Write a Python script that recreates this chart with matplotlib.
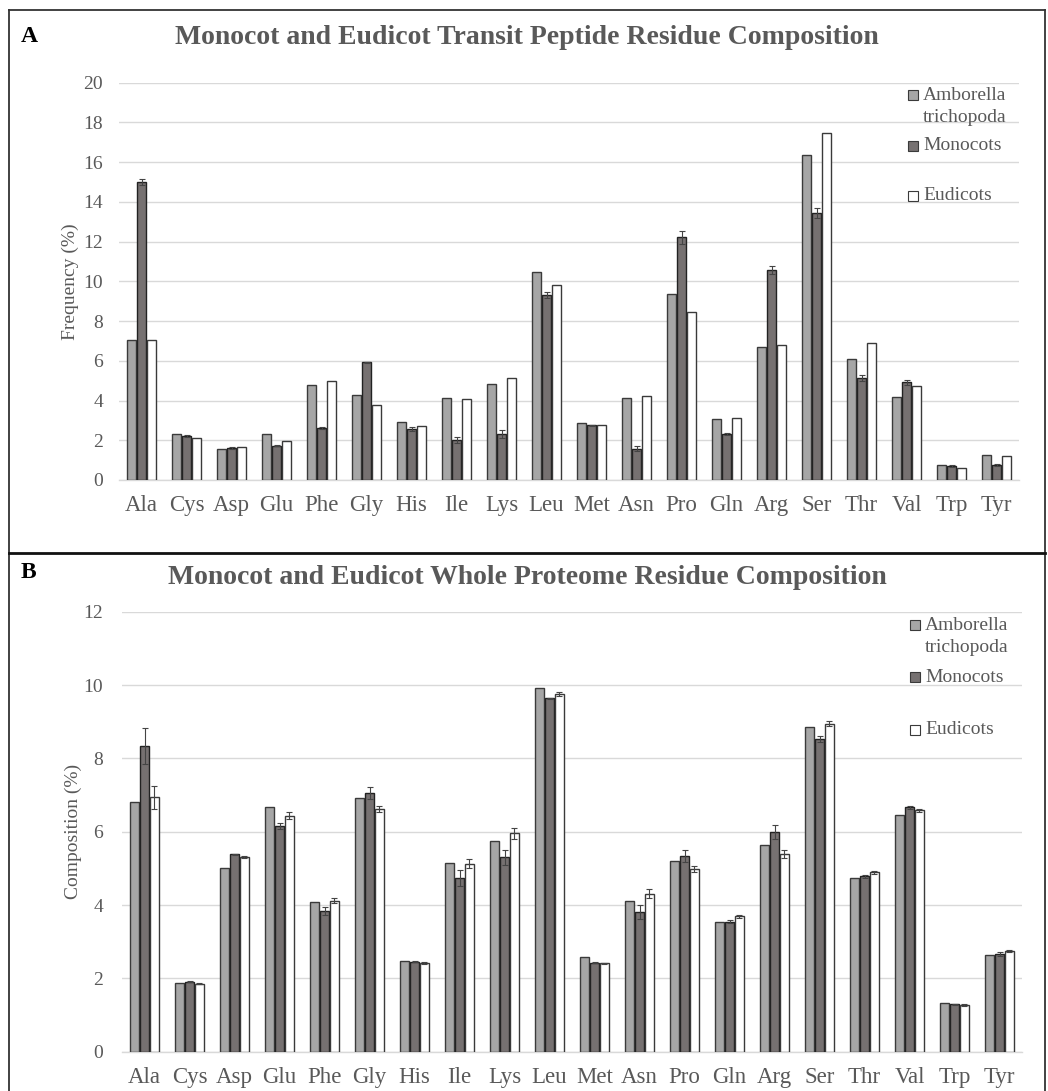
import matplotlib
matplotlib.use("Agg")
import matplotlib.pyplot as plt
from matplotlib.patches import Rectangle
from matplotlib.lines import Line2D
import numpy as np

plt.rcParams['font.family'] = ['Liberation Serif', 'DejaVu Serif']

residues = ["Ala", "Cys", "Asp", "Glu", "Phe", "Gly", "His", "Ile", "Lys", "Leu",
            "Met", "Asn", "Pro", "Gln", "Arg", "Ser", "Thr", "Val", "Trp", "Tyr"]
series_names = ["Amborella\ntrichopoda", "Monocots", "Eudicots"]

# Panel A: transit peptide residue frequency (%)
tp_amborella = [7.06, 2.30, 1.54, 2.33, 4.77, 4.28, 2.92, 4.13, 4.85, 10.45,
                2.89, 4.13, 9.35, 3.09, 6.69, 16.38, 6.07, 4.19, 0.74, 1.28]
tp_monocots = [15.02, 2.20, 1.63, 1.73, 2.62, 5.92, 2.55, 2.00, 2.30, 9.30,
               2.75, 1.58, 12.21, 2.30, 10.57, 13.44, 5.12, 4.92, 0.70, 0.76]
tp_monocots_err = [0.15, 0.05, 0.05, 0.03, 0.05, 0.04, 0.10, 0.15, 0.20, 0.15,
                   0.03, 0.12, 0.32, 0.05, 0.18, 0.23, 0.15, 0.12, 0.03, 0.04]
tp_eudicots = [7.06, 2.10, 1.66, 1.95, 4.97, 3.79, 2.73, 4.09, 5.15, 9.80,
               2.77, 4.24, 8.47, 3.12, 6.81, 17.48, 6.88, 4.73, 0.59, 1.19]

# Panel B: whole proteome residue composition (%)
wp_amborella = [6.81, 1.88, 5.02, 6.68, 4.09, 6.91, 2.48, 5.14, 5.76, 9.91,
                2.59, 4.12, 5.20, 3.55, 5.65, 8.85, 4.75, 6.46, 1.32, 2.65]
wp_monocots = [8.33, 1.91, 5.38, 6.16, 3.84, 7.05, 2.46, 4.74, 5.30, 9.64,
               2.43, 3.81, 5.34, 3.55, 5.99, 8.53, 4.78, 6.67, 1.29, 2.67]
wp_monocots_err = [0.49, 0.02, 0.02, 0.08, 0.10, 0.16, 0.02, 0.22, 0.21, 0.02,
                   0.02, 0.18, 0.17, 0.03, 0.20, 0.09, 0.03, 0.04, 0.02, 0.05]
wp_eudicots = [6.94, 1.86, 5.32, 6.44, 4.12, 6.63, 2.42, 5.13, 5.96, 9.75,
               2.41, 4.31, 4.99, 3.69, 5.40, 8.95, 4.89, 6.58, 1.28, 2.75]
wp_eudicots_err = [0.31, 0.02, 0.03, 0.09, 0.06, 0.08, 0.02, 0.12, 0.15, 0.05,
                   0.02, 0.12, 0.08, 0.04, 0.11, 0.08, 0.04, 0.03, 0.02, 0.03]

W, H = 1048, 1091
fig = plt.figure(figsize=(W / 100, H / 100), dpi=100)
fig.patch.set_facecolor("white")

TXT = "#595959"
C_AMB = "#a6a6a6"
C_MON = "#767171"
C_EUD = "#ffffff"
EDGE = "#3a3a3a"
GRID = "#d9d9d9"


def fx(px):
    return px / W


def fy(py):
    return 1 - py / H


def make_panel(rect_px, ymax, ystep, amb, mon, mon_err, eud, eud_err, ylabel, ypad):
    l, t, r, b = rect_px
    ax = fig.add_axes([fx(l), fy(b), fx(r) - fx(l), fy(t) - fy(b)])
    x = np.arange(len(residues))
    off = 0.222
    bw = 0.19
    ax.bar(x - off, amb, bw, color=C_AMB, edgecolor=EDGE, linewidth=1.0, zorder=3)
    ax.bar(x, mon, bw, color=C_MON, edgecolor="#222222", linewidth=1.0, zorder=3)
    ax.bar(x + off, eud, bw, color=C_EUD, edgecolor=EDGE, linewidth=1.0, zorder=3)
    ekw = dict(fmt="none", ecolor="#444444", elinewidth=0.8, capsize=2.5,
               capthick=0.8, zorder=4)
    if mon_err is not None:
        ax.errorbar(x, mon, yerr=mon_err, **ekw)
    if eud_err is not None:
        ax.errorbar(x + off, eud, yerr=eud_err, **ekw)
    ax.set_xlim(-0.5, len(residues) - 0.5)
    ax.set_ylim(0, ymax)
    ax.set_yticks(np.arange(0, ymax + 0.01, ystep))
    ax.set_xticks(x)
    ax.set_xticklabels(residues, fontsize=16.5, color=TXT)
    ax.tick_params(axis="x", length=0, pad=11)
    ax.tick_params(axis="y", length=0, pad=ypad, labelsize=14, labelcolor=TXT)
    ax.yaxis.grid(True, color=GRID, linewidth=1.0, zorder=0)
    ax.set_axisbelow(True)
    for s in ["top", "right", "left"]:
        ax.spines[s].set_visible(False)
    ax.spines["bottom"].set_color(GRID)
    ax.spines["bottom"].set_linewidth(1.0)
    ax.set_ylabel(ylabel, fontsize=14, color=TXT, labelpad=6)
    ax.set_facecolor("none")
    return ax


axA = make_panel((119, 82.7, 1019, 480), 20, 2, tp_amborella, tp_monocots,
                 tp_monocots_err, tp_eudicots, None, "Frequency (%)", 11.5)
axB = make_panel((122, 611.7, 1022, 1051.7), 12, 2, wp_amborella, wp_monocots,
                 wp_monocots_err, wp_eudicots, wp_eudicots_err, "Composition (%)", 13.5)
axA.yaxis.set_label_coords(-0.044, 0.5)
axB.yaxis.set_label_coords(-0.045, 0.5)

# Titles and panel letters
fig.text(fx(527), fy(38), "Monocot and Eudicot Transit Peptide Residue Composition",
         ha="center", va="center", fontsize=20, fontweight="bold", color=TXT)
fig.text(fx(527), fy(578), "Monocot and Eudicot Whole Proteome Residue Composition",
         ha="center", va="center", fontsize=20, fontweight="bold", color=TXT)
fig.text(fx(21), fy(36), "A", ha="left", va="center", fontsize=17,
         fontweight="bold", color="black")
fig.text(fx(21), fy(572), "B", ha="left", va="center", fontsize=17,
         fontweight="bold", color="black")


def legend(mx, ys_px, face_colors):
    # ys_px: y of each entry (first line)
    for (yy, col, name) in zip(ys_px, face_colors, series_names):
        fig.add_artist(Rectangle((fx(mx), fy(yy + 5)), 10 / W, 10 / H,
                                 transform=fig.transFigure, facecolor=col,
                                 edgecolor=EDGE, linewidth=0.8))
        for i, ln in enumerate(name.split("\n")):
            fig.text(fx(mx + 15), fy(yy + i * 23), ln, ha="left", va="center",
                     fontsize=14, color=TXT)


legend(908, [95, 146, 196], [C_AMB, C_MON, C_EUD])
legend(910, [625, 677, 730], [C_AMB, C_MON, C_EUD])

# Frame and divider
frame_kw = dict(transform=fig.transFigure, color="#333333", linewidth=1.3)
fig.add_artist(Line2D([fx(9), fx(9)], [fy(10), fy(1091)], **frame_kw))
fig.add_artist(Line2D([fx(1045), fx(1045)], [fy(10), fy(1091)], **frame_kw))
fig.add_artist(Line2D([fx(9), fx(1045)], [fy(10), fy(10)], **frame_kw))
fig.add_artist(Line2D([fx(9), fx(1045)], [fy(553), fy(553)], transform=fig.transFigure,
                      color="#111111", linewidth=2.0))

fig.savefig("out.png", dpi=100, facecolor="white")
